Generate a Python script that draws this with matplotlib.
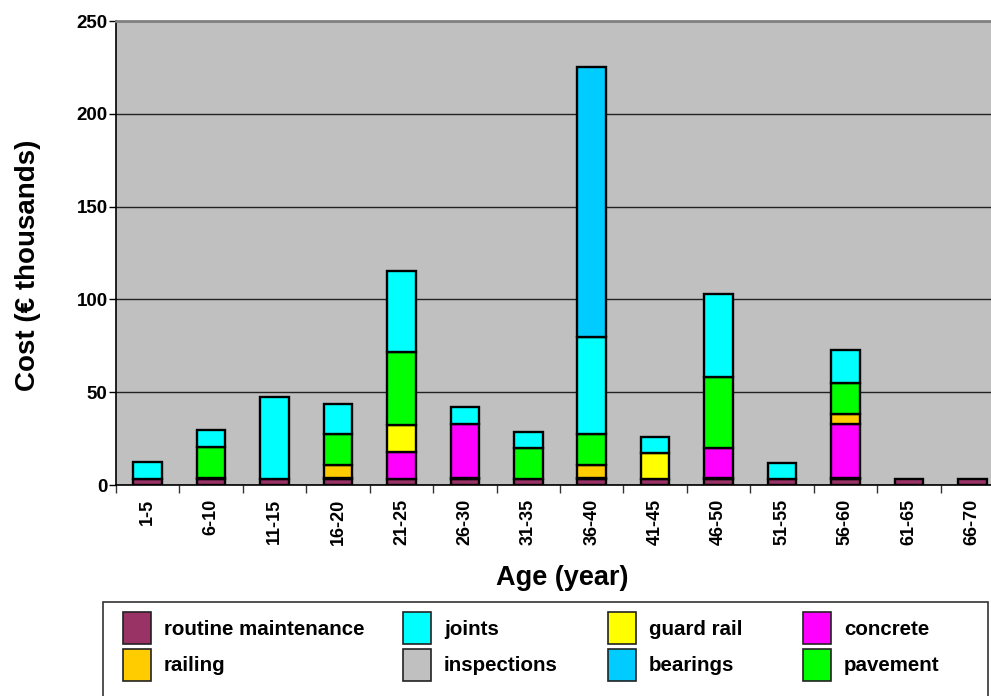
import numpy as np
import matplotlib
matplotlib.use("Agg")
import matplotlib.pyplot as plt
from matplotlib.patches import Patch, Rectangle

plt.rcParams['font.family'] = ['Liberation Sans', 'DejaVu Sans']
plt.rcParams['font.weight'] = 'bold'

categories = ['1-5', '6-10', '11-15', '16-20', '21-25', '26-30', '31-35',
              '36-40', '41-45', '46-50', '51-55', '56-60', '61-65', '66-70']

# Cost per age band, in thousands of euro, by component
routine_maintenance = [3.2, 3.2, 3.2, 3.2, 3.2, 3.2, 3.2, 3.2, 3.2, 3.2, 3.2, 3.2, 3.2, 3.2]
inspections = [0, 0.7, 0, 0.7, 0, 0.6, 0, 0.6, 0, 0.5, 0, 0.6, 0, 0]
concrete = [0, 0, 0, 0, 14.5, 29.1, 0, 0, 0, 16.0, 0, 29.1, 0, 0]
railing = [0, 0, 0, 6.8, 0, 0, 0, 6.9, 0, 0, 0, 5.4, 0, 0]
guard_rail = [0, 0, 0, 0, 14.4, 0, 0, 0, 14.3, 0, 0, 0, 0, 0]
pavement = [0, 16.6, 0, 16.9, 39.8, 0, 16.5, 16.8, 0, 38.6, 0, 16.7, 0, 0]
joints = [9.0, 9.2, 44.4, 16.3, 43.5, 9.2, 9.0, 52.0, 8.6, 44.5, 8.9, 17.9, 0, 0]
bearings = [0, 0, 0, 0, 0, 0, 0, 145.6, 0, 0, 0, 0, 0, 0]

colors = {
    'routine maintenance': '#993366',
    'joints': '#00FFFF',
    'guard rail': '#FFFF00',
    'concrete': '#FF00FF',
    'railing': '#FFCC00',
    'inspections': '#C0C0C0',
    'bearings': '#00CCFF',
    'pavement': '#00FF00',
}

# stacking order, bottom to top
stack = [
    ('routine maintenance', routine_maintenance),
    ('inspections', inspections),
    ('concrete', concrete),
    ('railing', railing),
    ('guard rail', guard_rail),
    ('pavement', pavement),
    ('joints', joints),
    ('bearings', bearings),
]

fig = plt.figure(figsize=(9.91, 6.96), dpi=100)
ax = fig.add_axes([116 / 991, 1 - 485 / 696, (1004 - 116) / 991, (485 - 21) / 696])
ax.set_facecolor('#C0C0C0')

x = np.arange(len(categories))
bottom = np.zeros(len(categories))
for name, vals in stack:
    v = np.asarray(vals, dtype=float)
    m = v > 0
    ax.bar(x[m], v[m], bottom=bottom[m], width=0.45, color=colors[name],
           edgecolor='black', linewidth=1.7, zorder=3)
    bottom += v

ax.set_xlim(-0.5, len(categories) - 0.5)
ax.set_ylim(0, 250)
ax.set_yticks([0, 50, 100, 150, 200, 250])
ax.yaxis.grid(True, color='#222222', linewidth=1.0, zorder=1)
ax.set_axisbelow(True)

# category boundaries carry tick marks, centres carry the labels
ax.set_xticks(np.arange(len(categories) + 1) - 0.5)
ax.set_xticklabels([])
ax.set_xticks(x, minor=True)
ax.set_xticklabels(categories, minor=True, rotation=90, fontsize=13, fontweight='bold')
ax.tick_params(axis='x', which='major', length=6, width=1, direction='out', color='#333333')
ax.tick_params(axis='x', which='minor', length=0, pad=10)
ax.tick_params(axis='y', length=5, width=1, direction='out', labelsize=13.5, pad=1)
for lab in ax.get_yticklabels():
    lab.set_fontweight('bold')

for side in ['left', 'bottom']:
    ax.spines[side].set_color('black')
    ax.spines[side].set_linewidth(1.2)
ax.spines['top'].set_color('#808080')
ax.spines['top'].set_linewidth(2)
ax.spines['right'].set_visible(False)

fig.text(562 / 991, 1 - 578 / 696, 'Age (year)', ha='center', va='center',
         fontsize=19.5, fontweight='bold')
fig.text(28 / 991, 1 - 265 / 696, 'Cost (€ thousands)', ha='center', va='center',
         rotation=90, fontsize=20, fontweight='bold')

# legend box
fig.patches.append(Rectangle((103 / 991, -0.02), (988 - 103) / 991, (1 - 602 / 696) + 0.02,
                             transform=fig.transFigure, facecolor='white',
                             edgecolor='#333333', linewidth=1.2, zorder=0))

columns = [
    ['routine maintenance', 'railing'],
    ['joints', 'inspections'],
    ['guard rail', 'bearings'],
    ['concrete', 'pavement'],
]
col_left = [123, 403, 608, 803]
for names, xl in zip(columns, col_left):
    handles = [Patch(facecolor=colors[n], edgecolor='#222222', linewidth=1.2, label=n)
               for n in names]
    fig.legend(handles=handles, loc='upper left',
               bbox_to_anchor=(xl / 991, 1 - 612 / 696), bbox_transform=fig.transFigure,
               frameon=False, borderpad=0, borderaxespad=0,
               handlelength=1.36, handleheight=2.02, handletextpad=0.63,
               labelspacing=0.24, prop={'size': 14.8, 'weight': 'bold'})

fig.savefig('out.png', dpi=100)
